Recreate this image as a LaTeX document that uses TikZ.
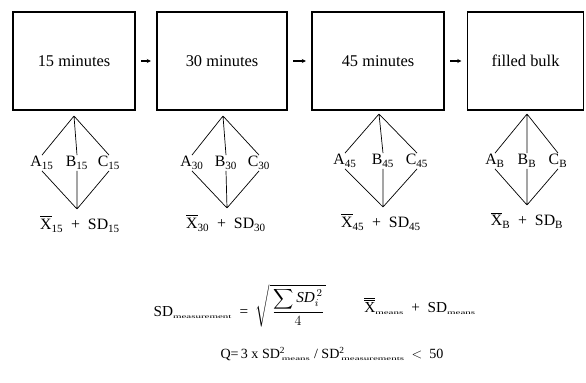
\documentclass[tikz,border=0pt]{standalone}
\usepackage{amsmath}
\usepackage{fontspec}
\setmainfont{Liberation Serif}
\usetikzlibrary{arrows.meta}
\newcommand{\lowsub}[1]{\textsubscript{\scalebox{1.1}[0.55]{\fontsize{8.5}{8.5}\selectfont #1}}}
\newcommand{\xbar}{$\overline{\mbox{X}}$}
\newcommand{\xbarbar}{$\overline{\overline{\mbox{X}}}$}

\begin{document}
\begin{tikzpicture}[
  x=0.3mm,y=-0.3mm,
  timebox/.style={draw,line width=1.3pt,minimum height=29.4mm,font=\fontsize{14}{16}\selectfont},
  flow/.style={-{Stealth[length=3.5pt,width=3.5pt]},line width=0.9pt,shorten <=1.6mm,shorten >=1.6mm},
  leg/.style={line width=0.6pt},
  lbl/.style={inner sep=1pt,font=\fontsize{13.5}{15}\selectfont},
  formula/.style={inner sep=1pt,font=\fontsize{13}{15}\selectfont}
]
\useasboundingbox (0,0) rectangle (586,383);
% sampling times
\node[timebox,minimum width=36.6mm] (m15) at (74,61) {15 minutes};
\node[timebox,minimum width=39mm] (m30) at (222,61) {30 minutes};
\node[timebox,minimum width=39.6mm] (m45) at (378,61) {45 minutes};
\node[timebox,minimum width=34.8mm] (bulk) at (525.5,61) {filled bulk};
\draw[flow] (m15) -- (m30);
\draw[flow] (m30) -- (m45);
\draw[flow] (m45) -- (bulk);
% 15 minutes
\coordinate (t15) at (74,116);
\node[lbl] (a15) at (42,163) {A\textsubscript{15}};
\node[lbl] (b15) at (77,163) {B\textsubscript{15}};
\node[lbl] (c15) at (109,163) {C\textsubscript{15}};
\coordinate (v15) at (77,209);
\node[lbl] (x15) at (80,224) {\xbar\textsubscript{15}\enspace+\enspace SD\textsubscript{15}};
\draw[leg] (t15) -- (a15.north) (a15.south) -- (v15)
  (t15) -- (b15.north) (b15.south) -- (v15)
  (t15) -- (c15.north) (c15.south) -- (v15);
% 30 minutes
\coordinate (t30) at (223,116);
\node[lbl] (a30) at (192,163) {A\textsubscript{30}};
\node[lbl] (b30) at (226,163) {B\textsubscript{30}};
\node[lbl] (c30) at (259,163) {C\textsubscript{30}};
\coordinate (v30) at (227,208);
\node[lbl] (x30) at (226,223) {\xbar\textsubscript{30}\enspace+\enspace SD\textsubscript{30}};
\draw[leg] (t30) -- (a30.north) (a30.south) -- (v30)
  (t30) -- (b30.north) (b30.south) -- (v30)
  (t30) -- (c30.north) (c30.south) -- (v30);
% 45 minutes
\coordinate (t45) at (379,114);
\node[lbl] (a45) at (345,161) {A\textsubscript{45}};
\node[lbl] (b45) at (383,161) {B\textsubscript{45}};
\node[lbl] (c45) at (417,161) {C\textsubscript{45}};
\coordinate (v45) at (383,207);
\node[lbl] (x45) at (381,222) {\xbar\textsubscript{45}\enspace+\enspace SD\textsubscript{45}};
\draw[leg] (t45) -- (a45.north) (a45.south) -- (v45)
  (t45) -- (b45.north) (b45.south) -- (v45)
  (t45) -- (c45.north) (c45.south) -- (v45);
% filled bulk
\coordinate (tB) at (527,114);
\node[lbl] (aB) at (495,161) {A\textsubscript{B}};
\node[lbl] (bB) at (527,161) {B\textsubscript{B}};
\node[lbl] (cB) at (558,161) {C\textsubscript{B}};
\coordinate (vB) at (527,205);
\node[lbl] (xB) at (527,220) {\xbar\textsubscript{B}\enspace+\enspace SD\textsubscript{B}};
\draw[leg] (tB) -- (aB.north) (aB.south) -- (vB)
  (tB) -- (bB.north) (bB.south) -- (vB)
  (tB) -- (cB.north) (cB.south) -- (vB);
% summary
\node[formula] (sdm) at (240,306) {SD\lowsub{measurement}\enspace=\enspace$\sqrt{\,\dfrac{\displaystyle\sum \mathit{SD}_i^{\,2}}{4}\,}$};
\node[formula] (mean) at (420,306) {\xbarbar\lowsub{means}\enspace+\enspace SD\lowsub{means}};
\node[formula,font=\fontsize{12}{14}\selectfont] (q) at (332,354) {Q=\,3 x SD\textsuperscript{2}\lowsub{\kern-.3em means} / SD\textsuperscript{2}\lowsub{\kern-.3em measurements}\enspace$<$\enspace50};
\end{tikzpicture}
\end{document}
